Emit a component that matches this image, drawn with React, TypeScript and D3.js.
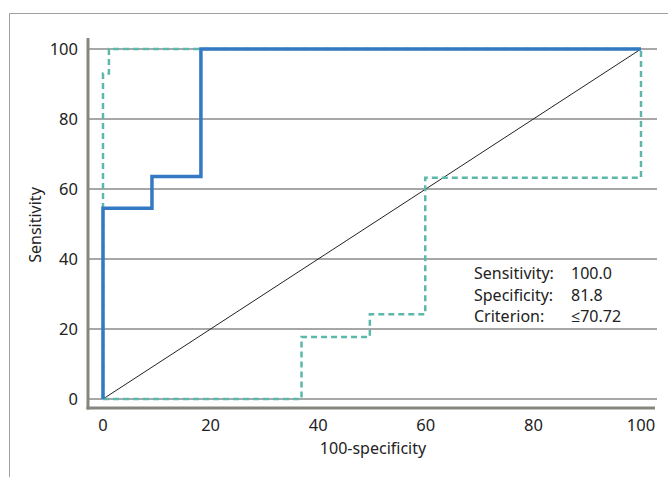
import React, { useEffect, useRef } from "react";
import * as d3 from "d3";

// ROC data: [100-specificity, sensitivity]
const blueCurve: [number, number][] = [
  [0, 0],
  [0, 54.5],
  [9.1, 54.5],
  [9.1, 63.6],
  [18.2, 63.6],
  [18.2, 100],
  [100, 100],
];

const tealUpper: [number, number][] = [
  [0, 0],
  [0, 93],
  [1.1, 93],
  [1.1, 100],
  [100, 100],
];

const tealLower: [number, number][] = [
  [0, 0],
  [36.9, 0],
  [36.9, 17.7],
  [49.6, 17.7],
  [49.6, 24.2],
  [59.9, 24.2],
  [59.9, 63.2],
  [100, 63.2],
  [100, 100],
];

const ticks = [0, 20, 40, 60, 80, 100];

const statLabels = ["Sensitivity:", "Specificity:", "Criterion:"];
const statValues = ["100.0", "81.8", "\u226470.72"];

const W = 668;
const H = 477;
const FONT = "'Noto Sans', 'Open Sans', sans-serif";

const App = () => {
  const svgRef = useRef<SVGSVGElement>(null);

  useEffect(() => {
    const svg = d3.select(svgRef.current);
    svg.selectAll("*").remove();

    const x = d3.scaleLinear().domain([0, 100]).range([103, 641]);
    const y = d3.scaleLinear().domain([0, 100]).range([399, 49]);

    // outer frame (top + left)
    svg
      .append("path")
      .attr("d", `M9.5,${H} L9.5,13.5 L${W},13.5`)
      .attr("fill", "none")
      .attr("stroke", "#a0a0a0")
      .attr("stroke-width", 1);

    // gridlines
    svg
      .append("g")
      .selectAll("line")
      .data(ticks)
      .join("line")
      .attr("x1", 88)
      .attr("x2", 657)
      .attr("y1", (d) => y(d))
      .attr("y2", (d) => y(d))
      .attr("stroke", "#8a8a8a")
      .attr("stroke-width", 1.5);

    // axis lines
    svg
      .append("line")
      .attr("x1", 88)
      .attr("x2", 88)
      .attr("y1", 38)
      .attr("y2", 409.5)
      .attr("stroke", "#86867e")
      .attr("stroke-width", 3);
    svg
      .append("line")
      .attr("x1", 86.5)
      .attr("x2", 655)
      .attr("y1", 408)
      .attr("y2", 408)
      .attr("stroke", "#86867e")
      .attr("stroke-width", 3);

    // tick labels
    svg
      .append("g")
      .selectAll("text")
      .data(ticks)
      .join("text")
      .attr("x", 78)
      .attr("y", (d) => y(d) + 5.5)
      .attr("text-anchor", "end")
      .attr("font-family", FONT)
      .attr("font-size", 16.5)
      .attr("fill", "#222")
      .text((d) => d);

    svg
      .append("g")
      .selectAll("text")
      .data(ticks)
      .join("text")
      .attr("x", (d) => x(d))
      .attr("y", 431)
      .attr("text-anchor", "middle")
      .attr("font-family", FONT)
      .attr("font-size", 16.5)
      .attr("fill", "#222")
      .text((d) => d);

    // axis titles
    svg
      .append("text")
      .attr("x", 373)
      .attr("y", 454)
      .attr("text-anchor", "middle")
      .attr("font-family", FONT)
      .attr("font-size", 16)
      .attr("fill", "#222")
      .text("100-specificity");

    svg
      .append("text")
      .attr("transform", "translate(41,225) rotate(-90)")
      .attr("text-anchor", "middle")
      .attr("font-family", FONT)
      .attr("font-size", 16)
      .attr("fill", "#222")
      .text("Sensitivity");

    // reference diagonal
    svg
      .append("line")
      .attr("x1", x(0))
      .attr("y1", y(0))
      .attr("x2", x(100))
      .attr("y2", y(100))
      .attr("stroke", "#222")
      .attr("stroke-width", 1);

    const line = d3
      .line<[number, number]>()
      .x((d) => x(d[0]))
      .y((d) => y(d[1]));

    [tealUpper, tealLower].forEach((c) => {
      svg
        .append("path")
        .attr("d", line(c))
        .attr("fill", "none")
        .attr("stroke", "#5cb8aa")
        .attr("stroke-width", 2.5)
        .attr("stroke-dasharray", "6,4");
    });

    svg
      .append("path")
      .attr("d", line(blueCurve))
      .attr("fill", "none")
      .attr("stroke", "#3479c3")
      .attr("stroke-width", 3.5);

    // stats text
    const stats = svg.append("g").attr("font-family", FONT).attr("font-size", 16).attr("fill", "#222");
    statLabels.forEach((s, i) => {
      stats.append("text").attr("x", 474).attr("y", 279 + i * 21.5).text(s);
      stats.append("text").attr("x", 571).attr("y", 279 + i * 21.5).text(statValues[i]);
    });
  }, []);

  return (
    <div>
      <svg
        ref={svgRef}
        width={W}
        height={H}
        style={{ position: "absolute", left: 0, top: 0, background: "#fff" }}
      ></svg>
    </div>
  );
};

export default App;
